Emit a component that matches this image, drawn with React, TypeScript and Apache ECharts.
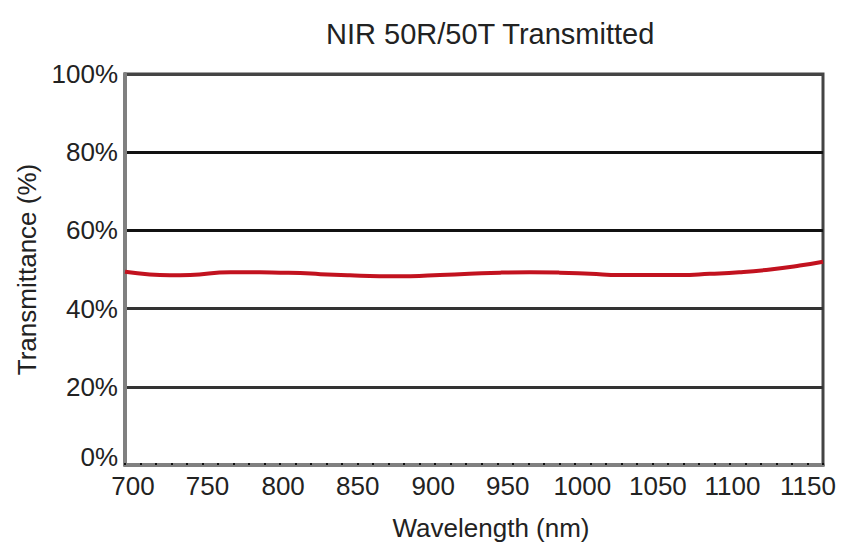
import React, { useEffect, useRef } from "react";
import * as echarts from "echarts";

const wavelengths = [700, 716, 729, 742, 768, 787, 800, 813, 826, 845, 864, 884, 903, 922, 942, 961, 980, 1000, 1019, 1038, 1058, 1077, 1096, 1116, 1135, 1150];
const transmittance = [49.4, 48.7, 48.5, 48.6, 49.3, 49.3, 49.2, 49.1, 48.8, 48.5, 48.3, 48.3, 48.6, 48.9, 49.2, 49.3, 49.2, 48.9, 48.6, 48.6, 48.6, 48.9, 49.3, 50.0, 51.0, 52.0];
const xTicks = [700, 750, 800, 850, 900, 950, 1000, 1050, 1100, 1150];
const yTicks = [0, 20, 40, 60, 80, 100];

const FONT = "'Liberation Sans', Arial, sans-serif";
const TEXT = "#222";

// horizontal nudges of the x tick labels (the reference's labels drift left of their ticks)
const xRich: Record<string, any> = {};
xTicks.forEach((t, i) => {
  const off = Math.round(8 - 2.6 * i);
  xRich["l" + i] = {
    fontFamily: FONT,
    fontSize: 26,
    color: TEXT,
    padding: off >= 0 ? [0, 0, 0, 2 * off] : [0, -2 * off, 0, 0],
  };
});

export default function App() {
  const ref = useRef<HTMLDivElement>(null);
  useEffect(() => {
    if (!ref.current) return;
    const chart = echarts.init(ref.current, null, { renderer: "svg" });
    chart.setOption({
      animation: false,
      backgroundColor: "#fff",
      title: {
        text: "NIR 50R/50T Transmitted",
        left: 321,
        top: 14,
        textStyle: { fontFamily: FONT, fontSize: 29, fontWeight: "normal", color: TEXT },
      },
      grid: {
        left: 125,
        right: 21,
        top: 74,
        bottom: 95,
        show: true,
        borderColor: "#444",
        borderWidth: 3,
        backgroundColor: "#fff",
        containLabel: false,
        outerBoundsMode: "none",
      },
      xAxis: {
        type: "value",
        min: xTicks[0],
        max: xTicks[xTicks.length - 1],
        interval: 50,
        name: "Wavelength (nm)",
        nameLocation: "middle",
        nameGap: 50,
        nameTextStyle: { fontFamily: FONT, fontSize: 26, color: TEXT, padding: [0, 0, 0, 34] },
        axisLine: { show: true, lineStyle: { color: "#808080", width: 4 } },
        axisTick: { show: true, inside: true, length: 2, lineStyle: { color: "#111", width: 2 } },
        minorTick: { show: true, splitNumber: 5, length: 2, lineStyle: { color: "#111", width: 2 } },
        splitLine: { show: false },
        axisLabel: {
          fontFamily: FONT,
          fontSize: 26,
          color: TEXT,
          margin: 8,
          formatter: (v: number) => {
            const i = xTicks.indexOf(v);
            return i >= 0 ? `{l${i}|${v}}` : String(v);
          },
          rich: xRich,
        },
      },
      yAxis: {
        type: "value",
        min: yTicks[0],
        max: yTicks[yTicks.length - 1],
        interval: 20,
        name: "Transmittance (%)",
        nameLocation: "middle",
        nameGap: 85,
        nameTextStyle: { fontFamily: FONT, fontSize: 26, color: TEXT },
        axisLine: { show: true, lineStyle: { color: "#808080", width: 4 } },
        axisTick: { show: false },
        splitLine: {
          show: true,
          lineStyle: { color: ["#444", "#333", "#333", "#111", "#111", "#444"], width: 3 },
        },
        axisLabel: {
          fontFamily: FONT,
          fontSize: 26,
          color: TEXT,
          margin: 7,
          formatter: (v: number) => (v === 0 ? `{z|${v}%}` : `${v}%`),
          rich: {
            z: { fontFamily: FONT, fontSize: 26, color: TEXT, padding: [0, 0, 16, 0] },
          },
        },
      },
      series: [
        {
          type: "line",
          smooth: true,
          showSymbol: false,
          data: wavelengths.map((w, i) => [w, transmittance[i]]),
          lineStyle: { color: "#c2121f", width: 4 },
          z: 5,
        },
      ],
    });
    return () => chart.dispose();
  }, []);
  return (
    <div
      ref={ref}
      style={{ position: "fixed", left: 0, top: 0, width: 844, height: 560, background: "#fff" }}
    />
  );
}
